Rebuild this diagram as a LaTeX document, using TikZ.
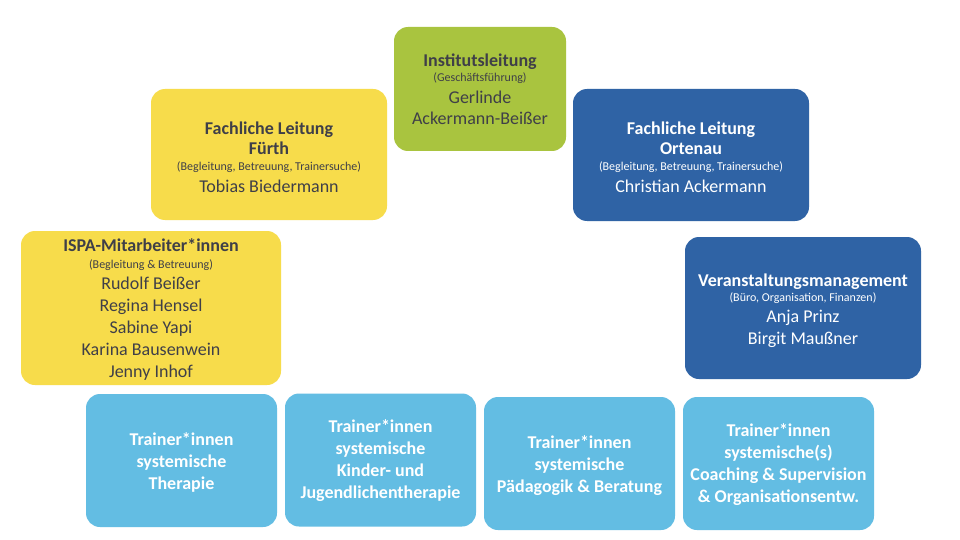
\documentclass[tikz,border=0pt]{standalone}
\usepackage{fontspec}
\setmainfont{Carlito}
\definecolor{cyel}{HTML}{F7DC4B}
\definecolor{cgrn}{HTML}{A9C43F}
\definecolor{cdbl}{HTML}{2F63A5}
\definecolor{clbl}{HTML}{63BDE3}
\definecolor{ctxt}{HTML}{3F3F48}
\tikzset{
  box/.style={rounded corners=14pt, draw=none, inner sep=0pt},
  ybox/.style={box, fill=cyel, text=ctxt},
  gbox/.style={box, fill=cgrn, text=ctxt},
  dbox/.style={box, fill=cdbl, text=white},
  lbox/.style={box, fill=clbl, text=white, minimum width=191pt, minimum height=133pt},
}
% #1 = baselineskip from previous line
\newcommand{\ttl}[1]{\bfseries\fontsize{18}{#1}\selectfont}
\newcommand{\sub}[1]{\mdseries\fontsize{12}{#1}\selectfont}
\newcommand{\nam}[1]{\mdseries\fontsize{18}{#1}\selectfont}
% #1 shift down, #2 width, #3 text
\newcommand{\txt}[3]{\raisebox{-#1}[\height][\depth]{\parbox{#2}{\centering #3\par}}}
\begin{document}
\begin{tikzpicture}[x=1pt,y=-1pt]
\useasboundingbox (0,0) rectangle (960,540);
\fill[white] (0,0) rectangle (960,540);

\node[gbox, minimum width=172pt, minimum height=124pt] (inst) at (480,89)
  {\txt{0pt}{170pt}{\ttl{22}Institutsleitung\\ \sub{15}(Geschäftsführung)\\ \nam{22}Gerlinde\\ \nam{21}Ackermann-Beißer}};

\node[ybox, minimum width=236pt, minimum height=131pt] (fuerth) at (269,154.5)
  {\txt{3pt}{234pt}{\ttl{20}Fachliche Leitung\\ Fürth\\ \sub{16}(Begleitung, Betreuung, Trainersuche)\\ \nam{22}Tobias Biedermann}};

\node[dbox, minimum width=236pt, minimum height=132pt] (ortenau) at (691,155)
  {\txt{2pt}{234pt}{\ttl{20}Fachliche Leitung\\ Ortenau\\ \sub{16}(Begleitung, Betreuung, Trainersuche)\\ \nam{22}Christian Ackermann}};

\node[ybox, minimum width=260pt, minimum height=154pt] (ispa) at (151,308)
  {\txt{2pt}{258pt}{\ttl{22}ISPA-Mitarbeiter*innen\\ \sub{17}(Begleitung \& Betreuung)\\ \nam{21}Rudolf Beißer\\ \nam{22}Regina Hensel\\ Sabine Yapi\\ Karina Bausenwein\\ Jenny Inhof}};

\node[dbox, minimum width=236pt, minimum height=142pt] (veran) at (803,308)
  {\txt{3pt}{234pt}{\ttl{22}Veranstaltungsmanagement\\ \sub{15}(Büro, Organisation, Finanzen)\\ \nam{21}Anja Prinz\\ \nam{22}Birgit Maußner}};

\node[lbox] (t1) at (181.5,460.5) {\txt{2pt}{189pt}{\ttl{22}Trainer*innen\\ systemische\\ Therapie}};
\node[lbox] (t2) at (380.5,460) {\txt{1pt}{189pt}{\ttl{22}Trainer*innen\\ systemische\\ Kinder- und\\ Jugendlichentherapie}};
\node[lbox] (t3) at (579.5,463.5) {\txt{2pt}{189pt}{\ttl{22}Trainer*innen\\ systemische\\ Pädagogik \& Beratung}};
\node[lbox] (t4) at (778.5,463.5) {\txt{1pt}{189pt}{\ttl{22}Trainer*innen\\ systemische(s)\\ Coaching \& Supervision\\ \& Organisationsentw.}};
\end{tikzpicture}
\end{document}
